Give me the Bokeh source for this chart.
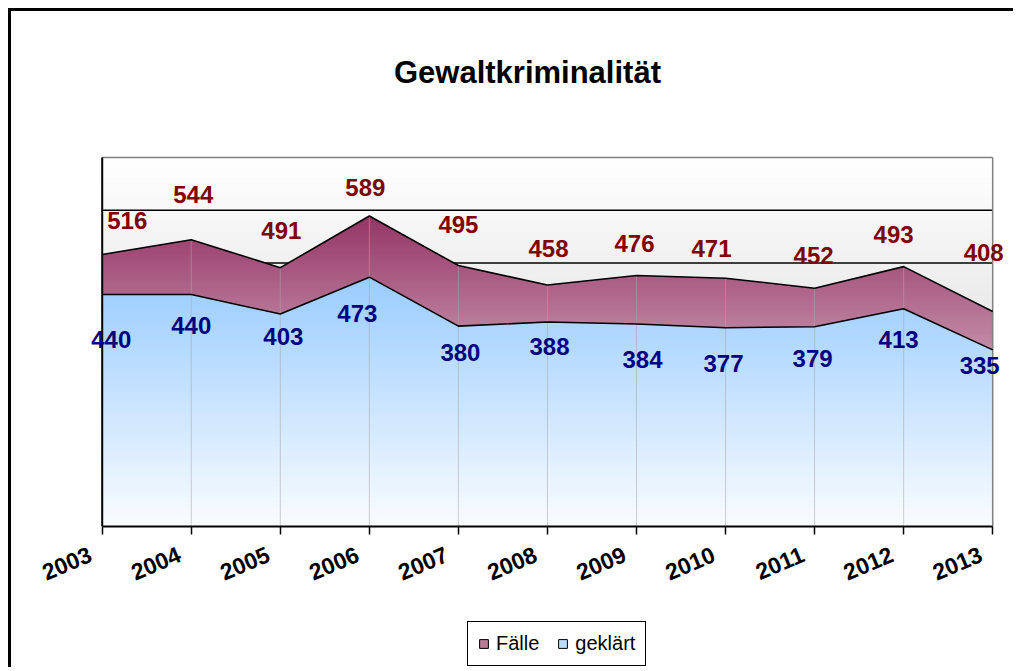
from bokeh.plotting import figure
from bokeh.layouts import column
from bokeh.models import Range1d, FixedTicker, Legend, LegendItem, ColumnDataSource
from bokeh.core.properties import value
from bokeh.embed import file_html
from bokeh.resources import INLINE

# ---- data ----
years = ["2003", "2004", "2005", "2006", "2007", "2008", "2009", "2010", "2011", "2012", "2013"]
faelle = [516, 544, 491, 589, 495, 458, 476, 471, 452, 493, 408]
geklaert = [440, 440, 403, 473, 380, 388, 384, 377, 379, 413, 335]
y_ticks = [0, 100, 200, 300, 400, 500, 600, 700]
title_text = "Gewaltkriminalität"
series_names = ["Fälle", "geklärt"]

# label placement (screen px offsets relative to each point)
faelle_dx = [25, 2, 1, -4, 0, 1, -2, -14, -1, -10, -9]
faelle_dy = [-34, -45, -37, -28, -41, -37, -32, -30, -33, -32, -59]
gekl_dx = [9, 0, 3, -12, 2, 2, 6, -2, -2, -5, -13]
gekl_dy = [45, 31, 22, 36, 26, 25, 35, 36, 32, 31, 16]

FONT = "Liberation Sans"
xs = list(range(len(years)))
X0, X1 = xs[0], xs[-1]
Y0, Y1 = y_ticks[0], y_ticks[-1]
Y_TOP = 920          # extra head room inside the frame for the title
TITLE_Y = 861
PAD = "\u00a0\u00a0"  # pushes rotated year labels away from their tick, as in the original


def clip(poly, y, keep_above):
    out = []
    n = len(poly)
    for i in range(n):
        cur = poly[i]
        prev = poly[i - 1]
        cin = cur[1] >= y if keep_above else cur[1] <= y
        pin = prev[1] >= y if keep_above else prev[1] <= y
        if cin:
            if not pin:
                t = (y - prev[1]) / (cur[1] - prev[1])
                out.append((prev[0] + t * (cur[0] - prev[0]), y))
            out.append(cur)
        elif pin:
            t = (y - prev[1]) / (cur[1] - prev[1])
            out.append((prev[0] + t * (cur[0] - prev[0]), y))
    return out


def hexc(c):
    return "#%02x%02x%02x" % tuple(int(round(v)) for v in c)


def lerp(c0, c1, t):
    t = max(0.0, min(1.0, t))
    return hexc([c0[i] + (c1[i] - c0[i]) * t for i in range(3)])


def gradient_source(poly, ytop, c_top, c_bot, step=4.0, overlap=2.0):
    px, py, cols = [], [], []
    a = 0.0
    while a < ytop:
        b = a + step + overlap
        piece = clip(clip(poly, a, True), b, False)
        if len(piece) >= 3:
            px.append([q[0] for q in piece])
            py.append([q[1] for q in piece])
            cols.append(lerp(c_bot, c_top, (a + step / 2) / ytop))
        a += step
    return ColumnDataSource(dict(xs=px, ys=py, color=cols))


p = figure(width=1005, height=611,
           x_range=Range1d(X0 - 0.3, X1 + 0.2), y_range=Range1d(Y0, Y_TOP),
           output_backend="svg", toolbar_location=None,
           min_border_left=64, min_border_right=6, min_border_top=30, min_border_bottom=96)
p.styles = {"border-left": "3px solid black", "border-top": "3px solid black",
            "position": "relative", "left": "8px", "top": "8px"}
p.background_fill_color = "white"
p.border_fill_color = "white"
p.outline_line_color = None

# plot-area background gradient
bg = dict(left=[], right=[], bottom=[], top=[], color=[])
a = float(Y0)
while a < Y1:
    bg["left"].append(X0)
    bg["right"].append(X1)
    bg["bottom"].append(a)
    bg["top"].append(min(a + 6, Y1))
    bg["color"].append(lerp((204, 204, 204), (255, 255, 255), (a + 2) / Y1))
    a += 4
p.quad(left="left", right="right", bottom="bottom", top="top", fill_color="color",
       line_color=None, source=ColumnDataSource(bg), level="image")

# horizontal major gridlines (behind the areas, limited to the plot area)
p.xgrid.visible = False
p.ygrid.visible = False
grid_vals = y_ticks[1:-1]
p.segment(x0=[X0] * len(grid_vals), y0=grid_vals, x1=[X1] * len(grid_vals), y1=grid_vals,
          line_color="black", line_width=1.5, level="image")

# areas
f_poly = [(X0, 0)] + list(zip(xs, faelle)) + [(X1, 0)]
g_poly = [(X0, 0)] + list(zip(xs, geklaert)) + [(X1, 0)]
src_f = gradient_source(f_poly, max(faelle), (149, 53, 101), (255, 255, 255))
src_g = gradient_source(g_poly, max(geklaert), (153, 204, 255), (250, 252, 255))
p.patches("xs", "ys", fill_color="color", line_color=None, source=src_f)
p.patches("xs", "ys", fill_color="color", line_color=None, source=src_g)

# vertical category gridlines visible through the areas
p.segment(x0=xs, y0=[0] * len(xs), x1=xs, y1=faelle, line_color="#a8a8a8", line_alpha=0.55, line_width=1)

# plot-area border (top and right gray, left value axis line black)
p.segment(x0=[X0, X1], y0=[Y1, Y0], x1=[X1, X1], y1=[Y1, Y1], line_color="#808080", line_width=1.5)
p.segment(x0=[X0], y0=[Y0], x1=[X0], y1=[Y1], line_color="black", line_width=2)

# outlines
p.line(xs, faelle, line_color="black", line_width=1.6)
p.line(xs, geklaert, line_color="black", line_width=1.6)

# data labels
p.text(x=xs, y=faelle, text=[str(v) for v in faelle], x_offset=faelle_dx, y_offset=faelle_dy,
       text_align="center", text_baseline="middle", text_color="#800000",
       text_font=value(FONT), text_font_style="bold", text_font_size="24px")
p.text(x=xs, y=geklaert, text=[str(v) for v in geklaert], x_offset=gekl_dx, y_offset=gekl_dy,
       text_align="center", text_baseline="middle", text_color="#000080",
       text_font=value(FONT), text_font_style="bold", text_font_size="24px")

# title
p.text(x=[(X0 + X1) / 2], y=[TITLE_Y], text=[title_text], x_offset=[-20],
       text_align="center", text_baseline="middle", text_color="black",
       text_font=value(FONT), text_font_style="bold", text_font_size="31px")

# axes
p.xaxis.ticker = FixedTicker(ticks=xs)
p.xaxis.bounds = (X0, X1)
p.xaxis.major_label_overrides = {i: years[i] + PAD for i in xs}
p.xaxis.major_label_orientation = 0.4
p.xaxis.major_label_standoff = 14
p.xaxis.major_label_text_font = FONT
p.xaxis.major_label_text_font_style = "bold"
p.xaxis.major_label_text_font_size = "23px"
p.xaxis.major_label_text_color = "black"
p.xaxis.major_tick_out = 8
p.xaxis.major_tick_in = 0
p.xaxis.major_tick_line_width = 1.5
p.xaxis.minor_tick_line_color = None
p.xaxis.axis_line_width = 2
p.xaxis.axis_line_color = "black"
p.yaxis.visible = False

# legend strip (separate small canvas under the chart)
q = figure(width=1005, height=48, x_range=Range1d(0, 1), y_range=Range1d(0, 1),
           output_backend="svg", toolbar_location=None,
           min_border_left=0, min_border_right=0, min_border_top=0, min_border_bottom=0)
q.styles = {"border-left": "3px solid black", "position": "relative", "left": "8px", "top": "8px"}
q.axis.visible = False
q.grid.visible = False
q.outline_line_color = None
q.background_fill_color = "white"
q.border_fill_color = "white"
# zero-size proxies outside the visible range: they only carry the legend swatch styles
r_f = q.quad(left=[-1], right=[-1], bottom=[-1], top=[-1], fill_color="#b77a98", line_color="black", line_width=1)
r_g = q.quad(left=[-1], right=[-1], bottom=[-1], top=[-1], fill_color="#bcdcff", line_color="black", line_width=1)
legend = Legend(items=[LegendItem(label=series_names[0], renderers=[r_f]),
                       LegendItem(label=series_names[1], renderers=[r_g])],
                orientation="horizontal", location=(392, 1),
                border_line_color="black", border_line_width=1, border_line_alpha=1,
                background_fill_color="white", background_fill_alpha=1,
                label_text_font=FONT, label_text_font_size="20px", label_text_color="black",
                glyph_width=11, glyph_height=11, padding=10, spacing=18, label_standoff=7, margin=0)
q.add_layout(legend)

layout = column(p, q, spacing=0)
open("out.html", "w").write(file_html(layout, INLINE))
